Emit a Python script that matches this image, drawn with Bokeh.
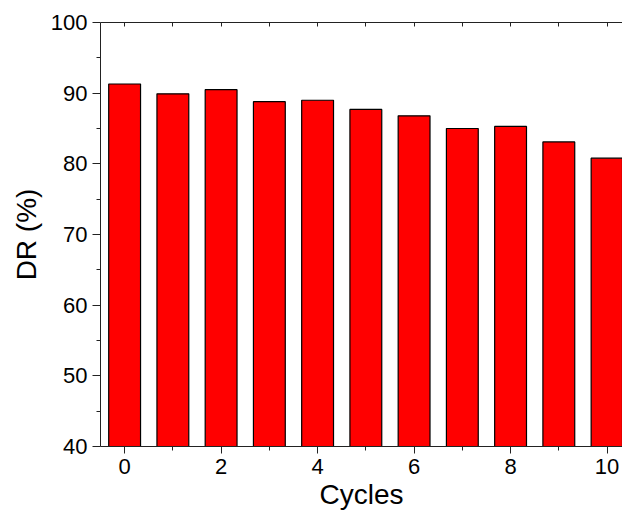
from bokeh.plotting import figure
from bokeh.models import LinearAxis, FixedTicker, Range1d
from bokeh.embed import file_html
from bokeh.resources import INLINE

cycles = [0, 1, 2, 3, 4, 5, 6, 7, 8, 9, 10]
dr = [91.3, 89.9, 90.5, 88.8, 89.0, 87.7, 86.8, 85.0, 85.3, 83.1, 80.8]
x_major = [0, 2, 4, 6, 8, 10]
x_minor = [1, 3, 5, 7, 9]
y_major = [40, 50, 60, 70, 80, 90, 100]
y_minor = [45, 55, 65, 75, 85, 95]

FONT = "Liberation Sans"
AX = "#222222"

p = figure(width=622, height=518, x_range=Range1d(-0.5, 10.32), y_range=Range1d(40, 100),
           output_backend="svg", toolbar_location=None,
           min_border_left=100, min_border_right=0, min_border_top=22, min_border_bottom=72,
           x_axis_location=None, y_axis_location=None)
p.outline_line_color = None
p.xgrid.visible = False
p.ygrid.visible = False
p.background_fill_color = "white"
p.border_fill_color = "white"

p.vbar(x=cycles, top=dr, bottom=40, width=0.66, fill_color="#FF0000",
       line_color="black", line_width=1.2)

xax = LinearAxis(ticker=FixedTicker(ticks=x_major, minor_ticks=x_minor))
xax.axis_label = "Cycles"
xax.major_tick_out = 7
xax.major_tick_in = 0
xax.minor_tick_out = 4
xax.minor_tick_in = 0
p.add_layout(xax, "below")

yax = LinearAxis(ticker=FixedTicker(ticks=y_major, minor_ticks=y_minor))
yax.axis_label = "DR (%)"
yax.major_tick_out = 8
yax.major_tick_in = 0
yax.minor_tick_out = 4
yax.minor_tick_in = 0
p.add_layout(yax, "left")

tax = LinearAxis(ticker=FixedTicker(ticks=[], minor_ticks=cycles))
tax.major_tick_out = 0
tax.major_tick_in = 0
tax.minor_tick_out = 0
tax.minor_tick_in = 4
p.add_layout(tax, "above")

for ax in (xax, yax, tax):
    ax.axis_line_color = AX
    ax.axis_line_width = 1
    ax.major_tick_line_color = AX
    ax.minor_tick_line_color = AX
    ax.major_label_text_font = FONT
    ax.major_label_text_color = "black"
    ax.axis_label_text_font = FONT
    ax.axis_label_text_font_style = "normal"
    ax.axis_label_text_color = "black"

for ax in (xax, yax):
    ax.major_label_text_font_size = "22px"
    ax.axis_label_text_font_size = "28px"
    ax.major_label_standoff = 5
xax.axis_label_standoff = 2
yax.axis_label_standoff = 6

open("out.html", "w").write(file_html(p, INLINE))
